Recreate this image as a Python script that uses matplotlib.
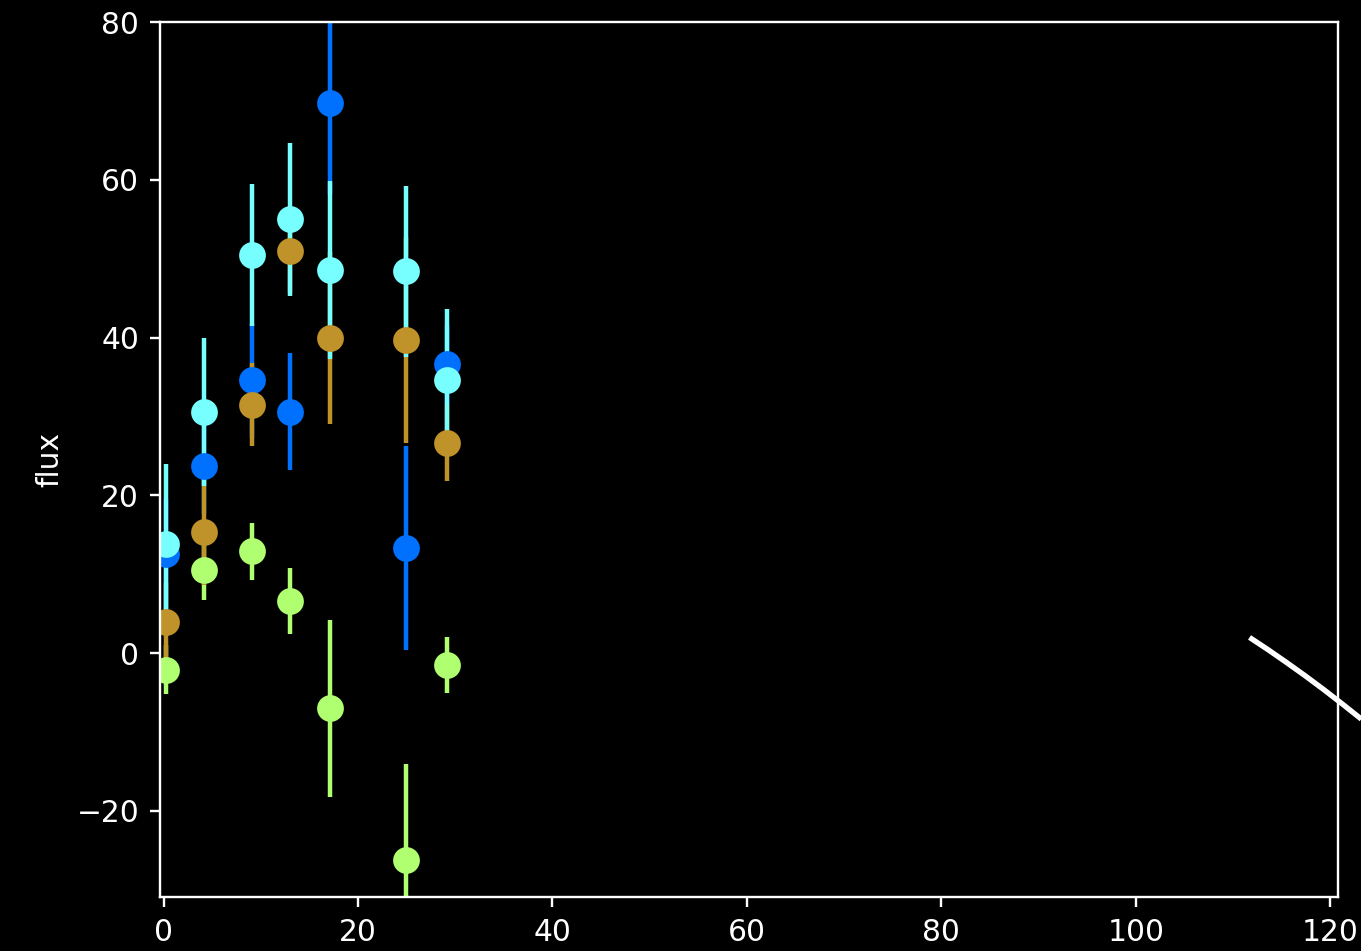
#!/usr/bin/env python

import numpy as np
import matplotlib
matplotlib.use("Agg")
import matplotlib.pyplot as plt

# time of each observation (same epochs for every band)
t = [0.3, 4.2, 9.1, 13.0, 17.1, 24.9, 29.2]

# flux and errors per band
flux_blue = [12.6, 23.7, 34.6, 30.6, 69.7, 13.3, 36.6]
err_blue = [7.0, 6.0, 7.3, 7.4, 11.5, 12.9, 5.0]

flux_green = [-2.1, 10.6, 12.9, 6.6, -7.0, -26.2, -1.5]
err_green = [3.1, 3.8, 3.6, 4.2, 11.2, 12.1, 3.6]

flux_gold = [3.9, 15.4, 31.5, 51.0, 39.9, 39.7, 26.7]
err_gold = [5.0, 6.7, 5.3, 5.4, 10.9, 13.1, 4.9]

flux_cyan = [13.8, 30.6, 50.5, 55.0, 48.6, 48.4, 34.6]
err_cyan = [10.2, 9.4, 9.0, 9.7, 11.3, 10.8, 9.0]

# white model curve poking in at the lower right
curve_t = [111.7, 113.6, 115.5, 117.4, 119.3, 121.2, 123.2]
curve_f = [2.0, 0.45, -1.17, -2.84, -4.58, -6.39, -8.35]

bands = [
    (flux_blue, err_blue, "#0070ff"),
    (flux_green, err_green, "#b0ff70"),
    (flux_gold, err_gold, "#c0922a"),
    (flux_cyan, err_cyan, "#77ffff"),
]

plt.style.use("dark_background")
dpi = 214
fig = plt.figure(figsize=(1361 / dpi, 951 / dpi), dpi=dpi)
ax = fig.add_axes([160 / 1361, 1 - 897 / 951, (1338 - 160) / 1361, (897 - 22) / 951])

for flux, err, color in bands:
    ax.errorbar(t, flux, yerr=err, fmt="o", color=color, ms=8, lw=1.5)

ax.plot(curve_t, curve_f, color="white", lw=1.8, clip_on=False,
        solid_capstyle="butt")

ax.set_xlim(-0.36, 120.8)
ax.set_ylim(-30.9, 80)
ax.set_xticks([0, 20, 40, 60, 80, 100, 120])
ax.set_ylabel("flux")

fig.savefig("out.png", dpi=dpi, facecolor="black")
